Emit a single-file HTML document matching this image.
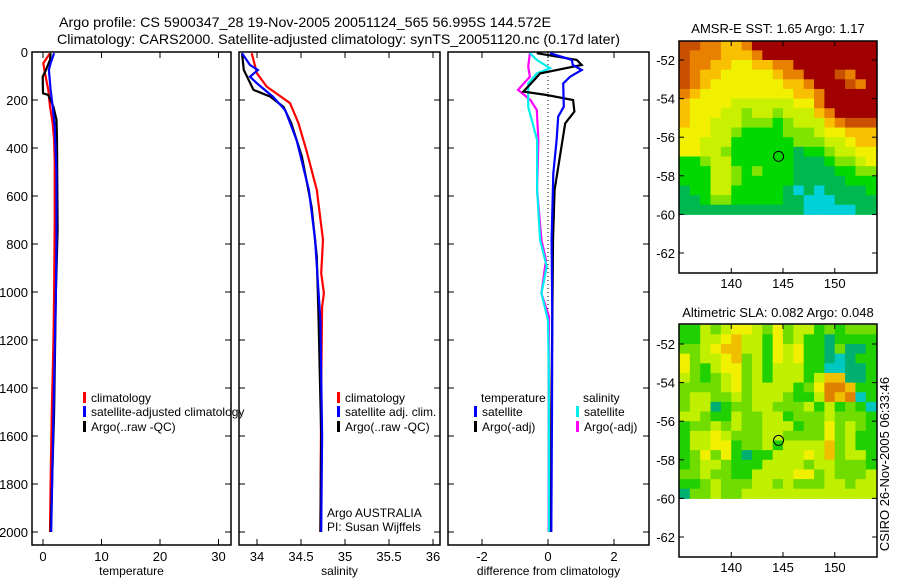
<!DOCTYPE html>
<html><head><meta charset="utf-8"><style>
html,body{margin:0;padding:0;background:#fff;}
svg{display:block;font-family:"Liberation Sans",sans-serif;}
</style></head><body>
<svg id="fig" width="900" height="580" viewBox="0 0 900 580">
<text x="59" y="27" font-size="14" textLength="492" lengthAdjust="spacingAndGlyphs">Argo profile: CS 5900347_28 19-Nov-2005 20051124_565 56.995S 144.572E</text>
<text x="57" y="44" font-size="14" textLength="563" lengthAdjust="spacingAndGlyphs">Climatology: CARS2000. Satellite-adjusted climatology: synTS_20051120.nc (0.17d later)</text>
<text x="778" y="33" font-size="13" text-anchor="middle">AMSR-E SST: 1.65 Argo: 1.17</text>
<text x="778" y="317" font-size="13" text-anchor="middle">Altimetric SLA: 0.082 Argo: 0.048</text>
<text transform="translate(889,464) rotate(-90)" font-size="13" text-anchor="middle">CSIRO 26-Nov-2005 06:33:46</text>
<g id="plots"></g>
</svg>
<script>
// ---- profile data (depth in m) ----
const tClimDepth = [5, 47, 89, 158, 228, 297, 367, 450, 700, 1000, 1200, 1500, 1800, 2000];
const tClimVal   = [1.2, 0.05, 0.34, 0.9, 1.2, 1.65, 1.9, 2.0, 2.0, 1.9, 1.8, 1.5, 1.3, 1.2];
const tSatDepth  = [5, 47, 75, 158, 228, 311, 506, 783, 1000, 1500, 2000];
const tSatVal    = [1.9, 1.3, 1.0, 1.3, 1.65, 2.0, 2.3, 2.3, 2.2, 1.8, 1.4];
const tArgoDepth = [5, 33, 75, 103, 172, 179, 228, 283, 367, 742, 1000, 1500, 2000];
const tArgoVal   = [1.3, 1.2, 0.5, -0.05, 0.0, 0.9, 1.77, 2.3, 2.4, 2.5, 2.2, 1.9, 1.3];

const sClimDepth = [5, 89, 144, 213, 296, 408, 575, 783, 922, 1004, 1062, 1400, 2000];
const sClimVal   = [33.94, 34.0, 34.11, 34.375, 34.47, 34.56, 34.68, 34.75, 34.73, 34.76, 34.74, 34.73, 34.72];
const sSatDepth  = [5, 54, 75, 103, 131, 186, 242, 367, 575, 783, 1117, 1600, 2000];
const sSatVal    = [33.83, 33.92, 34.01, 33.92, 34.0, 34.18, 34.32, 34.45, 34.59, 34.66, 34.72, 34.74, 34.73];
const sArgoDepth = [5, 75, 158, 186, 228, 297, 436, 645, 853, 1117, 1600, 2000];
const sArgoVal   = [33.83, 33.85, 33.96, 34.15, 34.3, 34.39, 34.51, 34.62, 34.68, 34.70, 34.73, 34.72];

const dTSatDepth  = [5, 33, 54, 75, 103, 131, 228, 269, 367, 506, 783, 1117, 1500, 2000];
const dTSatVal    = [0.06, 0.72, 0.75, 1.02, 0.67, 0.46, 0.48, 0.31, 0.26, 0.16, 0.11, 0.13, 0.12, 0.1];
const dTArgoDepth = [5, 33, 54, 89, 117, 165, 179, 200, 248, 297, 436, 575, 783, 1117, 1500, 2000];
const dTArgoVal   = [-0.34, 0.87, 1.02, -0.24, -0.42, -0.75, -0.04, 0.76, 0.8, 0.52, 0.36, 0.2, 0.15, 0.13, 0.1, 0.09];
const dSSatDepth  = [5, 33, 68, 89, 131, 228, 367, 575, 783, 894, 1006, 1117, 1300, 2000];
const dSSatVal    = [-0.55, -0.34, 0.06, -0.34, -0.6, -0.6, -0.33, -0.33, -0.24, -0.04, -0.2, 0.0, 0.02, 0.03];
const dSArgoDepth = [5, 61, 103, 158, 200, 242, 367, 575, 783, 867, 1006, 1103, 1300, 2000];
const dSArgoVal   = [-0.55, -0.6, -0.55, -0.91, -0.53, -0.34, -0.29, -0.33, -0.2, -0.06, -0.2, 0.03, 0.02, 0.02];

const depthTicks = [0, 200, 400, 600, 800, 1000, 1200, 1400, 1600, 1800, 2000];
const tempTicks = [0, 10, 20, 30];
const salTicks = [34, 34.5, 35, 35.5, 36];
const salTickLabels = ["34", "34.5", "35", "35.5", "36"];
const diffTicks = [-2, 0, 2];
const latTicks = [-52, -54, -56, -58, -60, -62];
const lonTicks = [140, 145, 150];

// ---- map grids: rows from -51 to -60 (0.5 deg), cols from lon 135 to 154 (1 deg) ----
const sstRows = [
"8877667999999999999","8777666799999999999","8776655667799999999","8766555556779998799",
"8765555555667999879","7655555555566799999","6555544444455799999","6555443443444679999",
"6554443332344467888","5554432222333455666","5544422222233344566","5544322222212234455",
"2234422222211123345","2224432322211112233","2224432222211111222","1224422222101011112",
"1123322222110001111","1111111111110000011"];
const slaRows = [
"2243455435344232333","2244564425342212222","3345664425452213112","5344563425452210122",
"5324553424442200112","4323453424442466112","3333453444423577622","3443343444322476702",
"3441233443334242320","4432243344233343332","2334343344423353432","2445433344333353422",
"2445523342444463422","2353521224445463442","2344322244443443332","3343322444455343334",
"2234333443433344344","1334334444444444444"];
const sstColors = ["#00d0d8","#00b850","#00d800","#80e400","#c8f000","#f0f000","#f8c000","#e88000","#c85000","#a00000"];
const slaColors = ["#00c8c0","#00b070","#20d000","#70dc00","#c0f000","#f0f000","#f0c000","#e08000"];
const floatLon = 144.572, floatLat = -56.995;

const NS = "http://www.w3.org/2000/svg";
const root = document.getElementById("plots");
function mk(tag, attrs, parent) {
  const e = document.createElementNS(NS, tag);
  for (const k in attrs) e.setAttribute(k, attrs[k]);
  (parent || root).appendChild(e);
  return e;
}
function txt(x, y, s, anchor, parent, size) {
  const e = mk("text", {x: x, y: y, "font-size": size || 12, "text-anchor": anchor || "start"}, parent);
  e.textContent = s;
  return e;
}

const Y0 = 52, YS = 0.24, YB = 545;
const yD = d => Y0 + d * YS;

function panel(name, x0, x1, xf, ticks, labels, xlabel, showDepth) {
  const g = mk("g", {});
  
  
  const fr = mk("rect", {x: x0, y: Y0, width: x1 - x0, height: YB - Y0, fill: "none", stroke: "#000", "stroke-width": 1.5}, g);
  
  
  depthTicks.forEach(d => {
    mk("line", {x1: x0, x2: x0 + 6, y1: yD(d), y2: yD(d), stroke: "#000"}, g);
    mk("line", {x1: x1, x2: x1 - 6, y1: yD(d), y2: yD(d), stroke: "#000"}, g);
    if (showDepth) {
      const t = txt(x0 - 4, yD(d) + 5, String(d), "end", g, 13);
      
      
    }
  });
  ticks.forEach((v, i) => {
    const x = xf(v);
    mk("line", {x1: x, x2: x, y1: YB, y2: YB - 6, stroke: "#000"}, g);
    mk("line", {x1: x, x2: x, y1: Y0, y2: Y0 + 6, stroke: "#000"}, g);
    const t = txt(x, YB + 16, labels[i], "middle", g, 13);
    
    
  });
  const xl = txt((x0 + x1) / 2, 575, xlabel, "middle", g);
  
  
  return g;
}
function line(g, xf, depths, vals, color, w, nm) {
  const pts = depths.map((d, i) => xf(vals[i]).toFixed(1) + "," + yD(d).toFixed(1)).join(" ");
  const p = mk("polyline", {points: pts, fill: "none", stroke: color, "stroke-width": w}, g);
  
  
}
function legend(g, x, y, color, label, nm) {
  const e = mk("g", {}, g);
  
  
  mk("rect", {x: x, y: y - 10, width: 3, height: 11, fill: color}, e);
  txt(x + 8, y, label, "start", e);
}

// Temperature panel
const xT = v => 43 + v * 5.85;
const gT = panel("temperature-panel", 32, 231, xT, tempTicks, tempTicks.map(String), "temperature", true);
line(gT, xT, tClimDepth, tClimVal, "#f00", 2.2, "temp-climatology-line");
line(gT, xT, tArgoDepth, tArgoVal, "#000", 2.2, "temp-argo-line");
line(gT, xT, tSatDepth, tSatVal, "#00f", 2.2, "temp-satellite-line");
legend(gT, 83, 402, "#f00", "climatology", "legend-climatology");
legend(gT, 83, 416, "#00f", "satellite-adjusted climatology", "legend-satellite-adjusted");
legend(gT, 83, 431, "#000", "Argo(..raw -QC)", "legend-argo");

// Salinity panel
const xS = v => 257 + (v - 34) * 88;
const gS = panel("salinity-panel", 239, 440, xS, salTicks, salTickLabels, "salinity", false);
line(gS, xS, sClimDepth, sClimVal, "#f00", 2.2, "sal-climatology-line");
line(gS, xS, sArgoDepth, sArgoVal, "#000", 2.2, "sal-argo-line");
line(gS, xS, sSatDepth, sSatVal, "#00f", 2.2, "sal-satellite-line");
legend(gS, 337, 402, "#f00", "climatology", "legend-sal-climatology");
legend(gS, 337, 416, "#00f", "satellite adj. clim.", "legend-sal-satellite");
legend(gS, 337, 431, "#000", "Argo(..raw -QC)", "legend-sal-argo");
const a1 = txt(327, 517, "Argo AUSTRALIA", "start", gS);


const a2 = txt(327, 531, "PI: Susan Wijffels", "start", gS);



// Difference panel
const xDf = v => 548 + v * 33;
const gD = panel("difference-panel", 448, 649, xDf, diffTicks, diffTicks.map(String), "difference from climatology", false);
const zl = mk("line", {x1: xDf(0), x2: xDf(0), y1: yD(0), y2: yD(2000), stroke: "#000", "stroke-dasharray": "1,3"}, gD);


line(gD, xDf, dSArgoDepth, dSArgoVal, "#f0f", 2.2, "diff-sal-argo-line");
line(gD, xDf, dSSatDepth, dSSatVal, "#0ee", 2.2, "diff-sal-satellite-line");
line(gD, xDf, dTArgoDepth, dTArgoVal, "#000", 2.2, "diff-temp-argo-line");
line(gD, xDf, dTSatDepth, dTSatVal, "#00f", 2.2, "diff-temp-satellite-line");
const lt = txt(481, 402, "temperature", "start", gD);


const ls = txt(583, 402, "salinity", "start", gD);


legend(gD, 474, 416, "#00f", "satellite", "legend-temp-satellite");
legend(gD, 474, 431, "#000", "Argo(-adj)", "legend-temp-argo");
legend(gD, 576, 416, "#0ee", "satellite", "legend-sal-satellite-diff");
legend(gD, 576, 431, "#f0f", "Argo(-adj)", "legend-sal-argo-diff");

// Maps
function map(name, top, bottom, rows, colors, latA, latB) {
  const g = mk("g", {});
  
  
  const L = 679, R = 877;
  const lonX = lon => 783 + (lon - 145) * 10.35;
  const latY = lat => latA + (lat - (-52)) * (latB - latA) / (-10);
  rows.forEach((row, r) => {
    for (let c = 0; c < row.length; c++) {
      const lon0 = 135 + c, lat0 = -51 - r * 0.5;
      const x0 = Math.max(L, lonX(lon0)), x1 = Math.min(R, lonX(lon0 + 1));
      const cell = mk("rect", {x: x0, y: latY(lat0), width: x1 - x0 + 0.5, height: latY(lat0 - 0.5) - latY(lat0) + 0.5, fill: colors[+row[c]]}, g);
      
      
    }
  });
  const dot = mk("circle", {cx: lonX(floatLon), cy: latY(floatLat), r: 5, fill: "none", stroke: "#000", "stroke-width": 1}, g);
  
  
  mk("rect", {x: L, y: top, width: R - L, height: bottom - top, fill: "none", stroke: "#000", "stroke-width": 1.5}, g);
  latTicks.forEach(v => {
    const y = latY(v);
    mk("line", {x1: L, x2: L + 5, y1: y, y2: y, stroke: "#000"}, g);
    mk("line", {x1: R, x2: R - 5, y1: y, y2: y, stroke: "#000"}, g);
    const t = txt(L - 4, y + 5, String(v), "end", g, 13);
    
    
  });
  lonTicks.forEach(v => {
    const x = lonX(v);
    mk("line", {x1: x, x2: x, y1: bottom, y2: bottom - 5, stroke: "#000"}, g);
    mk("line", {x1: x, x2: x, y1: top, y2: top + 5, stroke: "#000"}, g);
    const t = txt(x, bottom + 15, String(v), "middle", g, 13);
    
    
  });
}
map("sst-map", 41, 273, sstRows, sstColors, 60, 253);
map("sla-map", 324, 557, slaRows, slaColors, 344, 537);
</script>
</body></html>
